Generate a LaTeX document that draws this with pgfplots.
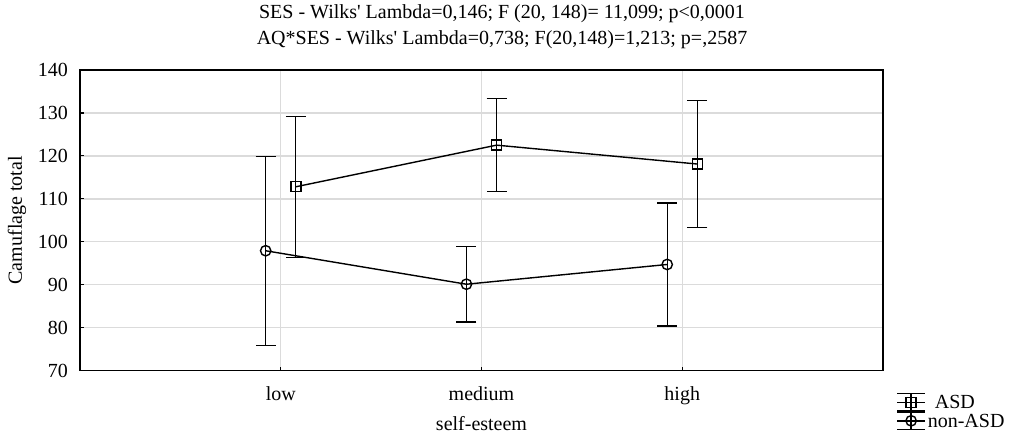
\documentclass[border=0pt]{standalone}
\usepackage{fontspec}
\setmainfont{Liberation Serif}
\usepackage{pgfplots}
\pgfplotsset{compat=1.18}
\begin{document}
\begin{tikzpicture}
\useasboundingbox (-40pt,-32.75pt) rectangle (467.5pt,185.25pt);
\begin{axis}[
  name=ax,
  scale only axis, width=401.5pt, height=150.25pt,
  at={(0pt,0pt)}, anchor=south west,
  xmin=0, xmax=4, ymin=70, ymax=140,
  xtick={1,2,3}, xticklabels={low,medium,high},
  ytick={70,80,...,140},
  tick align=inside, xtick pos=bottom, ytick pos=left, major tick length=2pt,
  tick style={black, line width=0.6pt},
  grid=major, major grid style={black!14, line width=0.7pt},
  axis line style={line width=0.8pt},
  /pgf/number format/assume math mode=true,
  xlabel={self-esteem}, ylabel={Camuflage total},
  xlabel style={at={(axis description cs:0.5,-0.178)}, anchor=center},
  ylabel style={at={(axis description cs:-0.0785,0.5)}, anchor=center},
  yticklabel style={xshift=-2.5pt},
  xticklabel style={yshift=-4.5pt},
  legend style={at={(axis description cs:1.0162,-0.0732)}, anchor=north west,
    draw=none, fill=none, inner sep=0pt, row sep=0pt,
    nodes={inner ysep=1.2pt, inner xsep=1pt, text height=6.6pt, text depth=0pt},
    /tikz/every even column/.style={column sep=0pt}},
  legend cell align=left,
  legend image code/.code={
    \draw[#1, mark=none] (0pt,4.3pt) -- (14pt,4.3pt) (0pt,-4.3pt) -- (14pt,-4.3pt) (7pt,4.3pt) -- (7pt,-4.3pt);
    \draw[#1, mark repeat=2, mark phase=2] plot coordinates {(0pt,0pt) (7pt,0pt) (14pt,0pt)};
  },
  error bars/error bar style={line width=0.65pt, black},
  error bars/error mark options={rotate=90, mark size=5pt, line width=0.65pt, black},
]
\addplot[black, line width=0.7pt, mark=square, mark size=2.5pt, mark options={solid},
  error bars/.cd, y dir=both, y explicit]
  coordinates {
    (1.075,112.8) +- (0,16.4)
    (2.075,122.5) +- (0,10.8)
    (3.075,118.1) +- (0,14.8)
  };
\addlegendentry{\hspace{3.5pt}ASD}
\addplot[black, line width=0.7pt, mark=o, mark size=2.6pt, mark options={solid},
  error bars/.cd, y dir=both, y explicit]
  coordinates {
    (0.925,97.9) +- (0,22.0)
    (1.925,90.1) +- (0,8.8)
    (2.925,94.7) +- (0,14.3)
  };
\addlegendentry{non-ASD}
\end{axis}
\node[anchor=center] at (211pt,178.5pt) {SES - Wilks\textquotesingle{} Lambda=0,146; F (20, 148)= 11,099; p<0,0001};
\node[anchor=center] at (211pt,165.5pt) {AQ*SES - Wilks\textquotesingle{} Lambda=0,738; F(20,148)=1,213; p=,2587};
\end{tikzpicture}
\end{document}
